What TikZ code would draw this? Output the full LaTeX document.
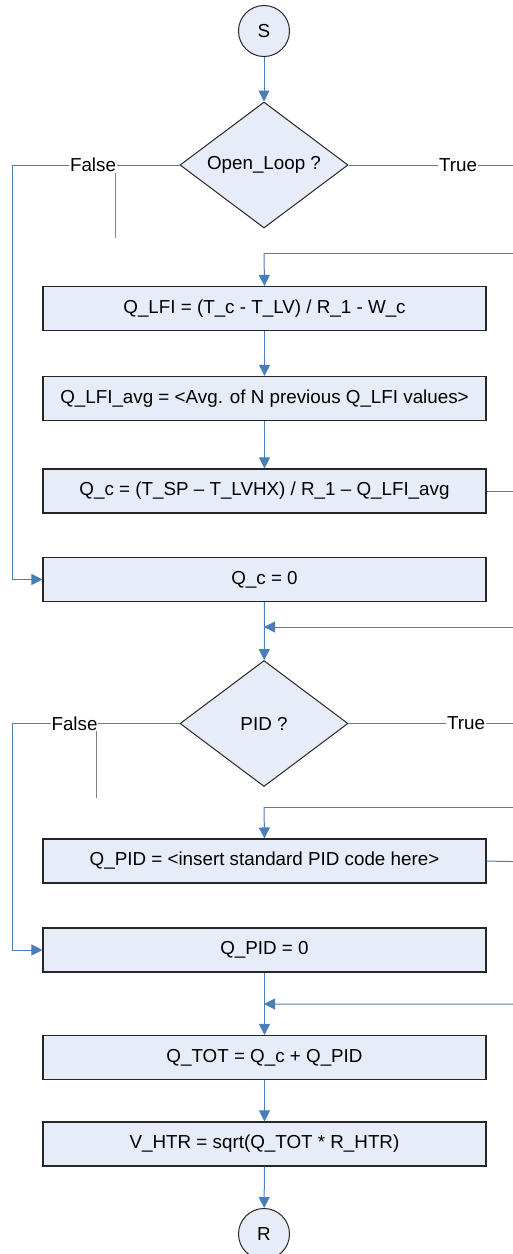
\documentclass[tikz,border=0pt]{standalone}
\usepackage{fontspec}
\setmainfont{Liberation Sans}
\usetikzlibrary{shapes.geometric,arrows.meta}
\definecolor{lineblue}{HTML}{4A7EBB}
\definecolor{boxfill}{HTML}{E6EDF8}
\tikzset{
  every node/.style={font=\fontsize{18.8}{22}\selectfont},
  procbox/.style={draw=black!85, line width=1.1pt, fill=boxfill, rectangle, minimum width=443pt, minimum height=44pt, inner sep=0pt},
  decision/.style={draw=black!85, line width=1pt, fill=boxfill, diamond, minimum width=168pt, minimum height=126pt, aspect=1.333, inner sep=0pt},
  term/.style={draw=black!85, line width=1pt, fill=boxfill, circle, minimum size=51pt, inner sep=0pt},
  flow/.style={draw=lineblue, line width=1pt, -{Triangle[length=11pt,width=11pt]}},
  plain/.style={draw=lineblue, line width=1pt},
  leader/.style={draw=black!50, line width=1pt},
  lbl/.style={fill=white, inner sep=1pt}
}
\begin{document}
\begin{tikzpicture}[x=1pt, y=-1pt]
\useasboundingbox (0,0) rectangle (513,1254);
\clip (0,0) rectangle (513,1254);
% nodes
\node[term] (S) at (264,31) {S};
\node[decision] (D1) at (264,165) {Open\_Loop ?};
\node[procbox] (B1) at (264.5,308.5) {Q\_LFI = (T\_c - T\_LV) / R\_1 - W\_c};
\node[procbox] (B2) at (264.5,398.5) {Q\_LFI\_avg = <Avg. of N previous Q\_LFI values>};
\node[procbox] (B3) at (264.5,491) {Q\_c = (T\_SP – T\_LVHX) / R\_1 – Q\_LFI\_avg};
\node[procbox] (B4) at (264.5,579.5) {Q\_c = 0};
\node[decision] (D2) at (264,723.5) {PID ?};
\node[procbox] (B5) at (264.5,861) {Q\_PID = <insert standard PID code here>};
\node[procbox] (B6) at (264.5,950) {Q\_PID = 0};
\node[procbox] (B7) at (264.5,1057.5) {Q\_TOT = Q\_c + Q\_PID};
\node[procbox] (B8) at (264.5,1144) {V\_HTR = sqrt(Q\_TOT * R\_HTR)};
\node[term] (R) at (264,1234) {R};
% helper coordinates
\coordinate (F1) at (12,165);
\coordinate (T1) at (530,165);
\coordinate (J1) at (264,253);
\coordinate (E3) at (530,491);
\coordinate (J2) at (264,627);
\coordinate (F2) at (12,723.5);
\coordinate (T2) at (530,723.5);
\coordinate (J3) at (264,807);
\coordinate (E5) at (530,862);
\coordinate (J4) at (264,1004);
\coordinate (G1a) at (115,165);
\coordinate (G1b) at (115,238);
\coordinate (G2a) at (96,723.5);
\coordinate (G2b) at (96,798);
% grey leader lines
\draw[leader] (G1a) -- (G1b);
\draw[leader] (G2a) -- (G2b);
% connectors
\draw[flow] (S) -- (D1);
\draw[flow] (D1.west) -- (F1) |- (B4.west);
\node[lbl] at (93,165) {False};
\draw[plain] (D1.east) -- (T1) |- (J1);
\node[lbl] at (458,165) {True};
\draw[flow] (J1) -- (B1.north);
\draw[flow] (B1) -- (B2);
\draw[flow] (B2) -- (B3);
\draw[flow] (B3.east) -- (E3) |- (J2);
\draw[flow] (B4) -- (D2);
\draw[flow] (D2.west) -- (F2) |- (B6.west);
\node[lbl] at (74.5,723.5) {False};
\draw[plain] (D2.east) -- (T2) |- (J3);
\node[lbl] at (466,723.5) {True};
\draw[flow] (J3) -- (B5.north);
\draw[flow] (B5.east) -- (E5) |- (J4);
\draw[flow] (B6) -- (B7);
\draw[flow] (B7) -- (B8);
\draw[flow] (B8) -- (R);
\end{tikzpicture}
\end{document}
